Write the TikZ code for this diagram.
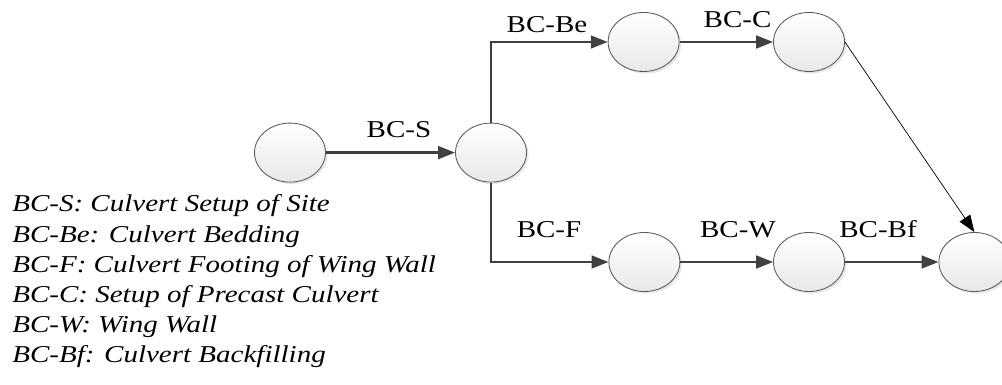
\documentclass[tikz,border=0pt]{standalone}
\usepackage{fontspec}
\setmainfont{Liberation Serif}
\usetikzlibrary{arrows.meta,shapes.geometric,shadows}

% text in this chart is set slightly wide
\newcommand\widetext[1]{\scalebox{1.2}[1]{#1}}

\tikzset{
  event/.style={ellipse, draw=black!65, line width=0.6pt,
    minimum width=1.775cm, minimum height=1.475cm, inner sep=0pt,
    top color=white, bottom color=black!9,
    drop shadow={opacity=0.18, shadow xshift=1.5pt, shadow yshift=-1.5pt}},
  flow/.style={line width=1.8pt, draw=black!75, -{Triangle[length=12pt,width=9pt]}},
  link/.style={line width=0.5pt, draw=black, -{Triangle[length=12pt,width=9pt]}},
  act/.style={anchor=base, inner sep=0pt},
  legend/.style={anchor=base west, inner sep=0pt, font=\fontsize{17.2}{20}\selectfont\itshape}
}

\begin{document}
\begin{tikzpicture}[font=\fontsize{17.2}{20}\selectfont]

  \clip (0,0) rectangle (25.05,9.625);

  % ---------- events ----------
  \node[event] (n1) at (7.25,5.81) {};
  \node[event] (n2) at (12.275,5.81) {};
  \node[event] (n3) at (16.09,8.575) {};
  \node[event] (n4) at (20.225,8.575) {};
  \node[event] (n5) at (16.11,3.075) {};
  \node[event] (n6) at (20.225,3.075) {};
  \node[event] (n7) at (24.36,3.075) {};

  % ---------- activities ----------
  \draw[flow] (n1) -- (n2);
  \draw[flow] (n2) |- (n3);
  \draw[flow] (n3) -- (n4);
  \draw[flow] (n2) |- (n5);
  \draw[flow] (n5) -- (n6);
  \draw[flow] (n6) -- (n7);
  \draw[link] (n4.east) -- (n7.north);

  \node[act] (bcs)  at (9.975,6.175) {\widetext{BC-S}};
  \node[act] (bcbe) at (13.675,8.8)  {\widetext{BC-Be}};
  \node[act] (bcc)  at (18.44,8.925) {\widetext{BC-C}};
  \node[act] (bcf)  at (13.725,3.675) {\widetext{BC-F}};
  \node[act] (bcw)  at (18.45,3.675) {\widetext{BC-W}};
  \node[act] (bcbf) at (21.95,3.675) {\widetext{BC-Bf}};

  % ---------- legend ----------
  \foreach \txt [count=\i] in {BC-S: Culvert Setup of Site,
      BC-Be: Culvert Bedding,
      BC-F: Culvert Footing of Wing Wall,
      BC-C: Setup of Precast Culvert,
      BC-W: Wing Wall,
      BC-Bf: Culvert Backfilling}
    \node[legend] (leg\i) at (0.3,{5.08-0.753*\i}) {\widetext{\txt}};

\end{tikzpicture}
\end{document}
